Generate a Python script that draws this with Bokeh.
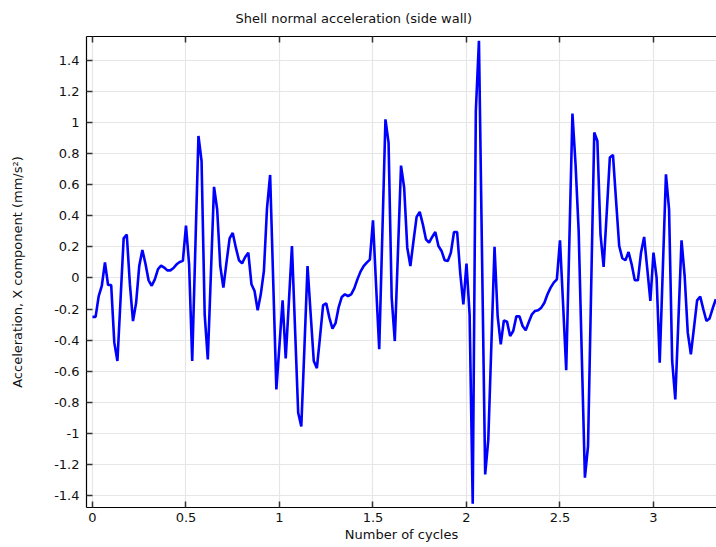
from bokeh.plotting import figure
from bokeh.models import Range1d, FixedTicker, LinearAxis, ColumnDataSource
from bokeh.embed import file_html
from bokeh.resources import INLINE

# ---- data -------------------------------------------------------------
cycle_step = 1.0 / 60.0  # sampling interval of the solution (cycles)

acceleration_x = [
    -0.25, -0.25, -0.116, -0.05, 0.10, -0.045, -0.045, -0.416, -0.534, -0.14,
    0.255, 0.28, -0.04, -0.277, -0.16, 0.077, 0.18, 0.092, -0.015, -0.05,
    -0.009, 0.056, 0.08, 0.067, 0.049, 0.049, 0.064, 0.088, 0.103, 0.11,
    0.337, 0.088, -0.534, 0.19, 0.914, 0.753, -0.234, -0.524, 0.03, 0.586,
    0.442, 0.077, -0.062, 0.10, 0.255, 0.29, 0.195, 0.114, 0.094, 0.135,
    0.163, -0.04, -0.084, -0.208, -0.105, 0.045, 0.45, 0.663, -0.03, -0.717,
    -0.43, -0.144, -0.517, -0.16, 0.206, -0.33, -0.867, -0.955, -0.45, 0.077,
    -0.23, -0.534, -0.58, -0.38, -0.174, -0.163, -0.255, -0.326, -0.29, -0.187,
    -0.122, -0.105, -0.116, -0.105, -0.067, -0.009, 0.041, 0.077, 0.099, 0.118,
    0.371, -0.05, -0.459, 0.28, 1.021, 0.871, -0.127, -0.406, 0.16, 0.723,
    0.582, 0.195, 0.077, 0.238, 0.393, 0.425, 0.345, 0.249, 0.227, 0.264,
    0.296, 0.206, 0.174, 0.114, 0.109, 0.163, 0.296, 0.296, 0.03, -0.17,
    0.092, -0.234, -1.453, 1.075, 1.526, 0.13, -1.264, -1.04, -0.42, 0.20,
    -0.245, -0.427, -0.273, -0.281, -0.373, -0.341, -0.247, -0.247, -0.309, -0.337,
    -0.283, -0.234, -0.212, -0.208, -0.191, -0.159, -0.105, -0.062, -0.03, -0.009,
    0.242, -0.17, -0.594, 0.23, 1.058, 0.73, 0.30, -0.5, -1.285, -1.082,
    -0.07, 0.936, 0.882, 0.281, 0.071, 0.42, 0.775, 0.792, 0.496, 0.206,
    0.127, 0.114, 0.167, 0.088, -0.015, -0.015, 0.163, 0.264, 0.06, -0.148,
    0.163, 0.002, -0.545, 0.06, 0.667, 0.442, -0.534, -0.781, -0.27, 0.242,
    0.013, -0.352, -0.491, -0.32, -0.144, -0.12, -0.202, -0.277, -0.26, -0.195,
    -0.137,
]
cycles = [i * cycle_step for i in range(len(acceleration_x))]

x_ticks = [0, 0.5, 1, 1.5, 2, 2.5, 3]
x_tick_labels = ["0", "0.5", "1", "1.5", "2", "2.5", "3"]
y_ticks = [-1.4, -1.2, -1.0, -0.8, -0.6, -0.4, -0.2, 0.0, 0.2, 0.4, 0.6, 0.8, 1.0, 1.2, 1.4]
y_tick_labels = ["-1.4", "-1.2", "-1", "-0.8", "-0.6", "-0.4", "-0.2", "0",
                 "0.2", "0.4", "0.6", "0.8", "1", "1.2", "1.4"]

title_text = "Shell normal acceleration (side wall)"
x_label = "Number of cycles"
y_label = "Acceleration, X component (mm/s\u00b2)"

# ---- figure -----------------------------------------------------------
FONT = "DejaVu Sans"

p = figure(width=716, height=547, output_backend="svg", toolbar_location=None,
           x_range=Range1d(-0.032, 3.337), y_range=Range1d(-1.477, 1.554),
           x_axis_location=None, y_axis_location=None,
           min_border_left=86, min_border_right=0, min_border_top=36,
           min_border_bottom=40)
p.background_fill_color = "white"
p.border_fill_color = "white"
p.outline_line_color = None

p.title.text = title_text
p.title.text_font = FONT
p.title.text_font_size = "13px"
p.title.text_font_style = "normal"
p.title.text_color = "#111111"
p.title.align = "left"
p.title.offset = 149
p.title.standoff = 18
p.title.vertical_align = "top"

src = ColumnDataSource(dict(x=cycles, y=acceleration_x))
p.line("x", "y", source=src, line_color="#0000ff", line_width=2.6)


def style_axis(ax, labels=True):
    ax.axis_line_color = "black"
    ax.axis_line_width = 1.2
    ax.major_tick_in = 6
    ax.major_tick_out = 0
    ax.minor_tick_in = 0
    ax.minor_tick_out = 0
    ax.major_tick_line_color = "#333333"
    ax.major_tick_line_width = 1.5
    ax.major_label_text_font = FONT
    ax.major_label_text_font_size = "13px"
    ax.major_label_text_color = "#111111"
    ax.axis_label_text_font = FONT
    ax.axis_label_text_font_size = "13px"
    ax.axis_label_text_font_style = "normal"
    ax.axis_label_text_color = "#111111"
    if not labels:
        ax.major_label_text_font_size = "0px"
        ax.major_label_text_color = None


xt = FixedTicker(ticks=x_ticks)
yt = FixedTicker(ticks=y_ticks)

bottom = LinearAxis(ticker=xt, axis_label=x_label,
                    major_label_overrides={t: l for t, l in zip(x_ticks, x_tick_labels)})
style_axis(bottom)
bottom.major_label_standoff = 5
bottom.axis_label_standoff = 2
p.add_layout(bottom, "below")

left = LinearAxis(ticker=yt, axis_label=y_label,
                  major_label_overrides={t: l for t, l in zip(y_ticks, y_tick_labels)})
style_axis(left)
left.major_label_standoff = 7
left.axis_label_standoff = 26
p.add_layout(left, "left")

top = LinearAxis(ticker=xt)
style_axis(top, labels=False)
top.major_label_standoff = 0
p.add_layout(top, "above")

p.xgrid.ticker = xt
p.ygrid.ticker = yt
for g in p.grid:
    g.grid_line_color = "#e6e6e6"
    g.grid_line_width = 1.2

open("out.html", "w").write(file_html(p, INLINE))
